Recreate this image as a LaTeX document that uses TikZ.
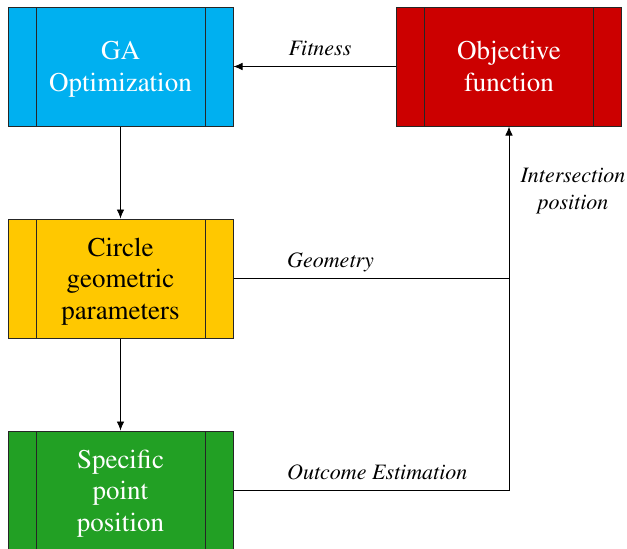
\documentclass[tikz,border=0pt]{standalone}
\usepackage[T1]{fontenc}
\usepackage{times}
\usetikzlibrary{positioning}
\usetikzlibrary{arrows.meta}
\usepackage{xcolor}

\definecolor{gablue}{HTML}{00B0F0}
\definecolor{objred}{HTML}{CC0000}
\definecolor{circyellow}{HTML}{FFC800}
\definecolor{specgreen}{HTML}{22A024}

\tikzset{
  procbox/.style={draw=black!85, line width=1pt, minimum width=225pt, minimum height=119pt,
    inner sep=0pt, align=center, text depth=0pt, font=\fontsize{27}{31.5}\selectfont,
    path picture={
      \draw[black!85, line width=1pt] ([xshift=28pt]path picture bounding box.north west) -- ([xshift=28pt]path picture bounding box.south west);
      \draw[black!85, line width=1pt] ([xshift=-28pt]path picture bounding box.north east) -- ([xshift=-28pt]path picture bounding box.south east);
    }},
  flowlabel/.style={font=\fontsize{22}{27}\selectfont\itshape, inner sep=0pt, align=center},
  flow/.style={line width=0.9pt, -{Latex[length=9pt,width=7.5pt]}},
  plain/.style={line width=0.9pt}
}

\begin{document}
\begin{tikzpicture}[x=1pt, y=-1pt]

\useasboundingbox (0,0) rectangle (627,549);

\node[procbox, fill=gablue, text=white] (ga) at (120.5,66.5) {GA\\Optimization};
\node[procbox, fill=objred, text=white] (obj) at (509,66.5) {Objective\\function};
\node[procbox, fill=circyellow, text=black] (circ) at (120.5,278.5) {Circle\\geometric\\parameters};
\node[procbox, fill=specgreen, text=white] (spec) at (120.5,490.5) {Specific\\point\\position};

\draw[flow] (obj) -- (ga);
\draw[flow] (ga) -- (circ);
\draw[flow] (circ) -- (spec);

\draw[plain] (circ.east) -- (circ.east -| obj.south);
\draw[flow] (spec.east) -| (obj.south);

\node[flowlabel, anchor=base] (fitlabel) at (320,55) {Fitness};
\node[flowlabel, anchor=base west] (geolabel) at (287,267) {Geometry};
\node[flowlabel, anchor=base west] (outlabel) at (287,479) {Outcome Estimation};
\node[flowlabel, anchor=north] (intlabel) at (573,168) {Intersection\\position};

\end{tikzpicture}
\end{document}
